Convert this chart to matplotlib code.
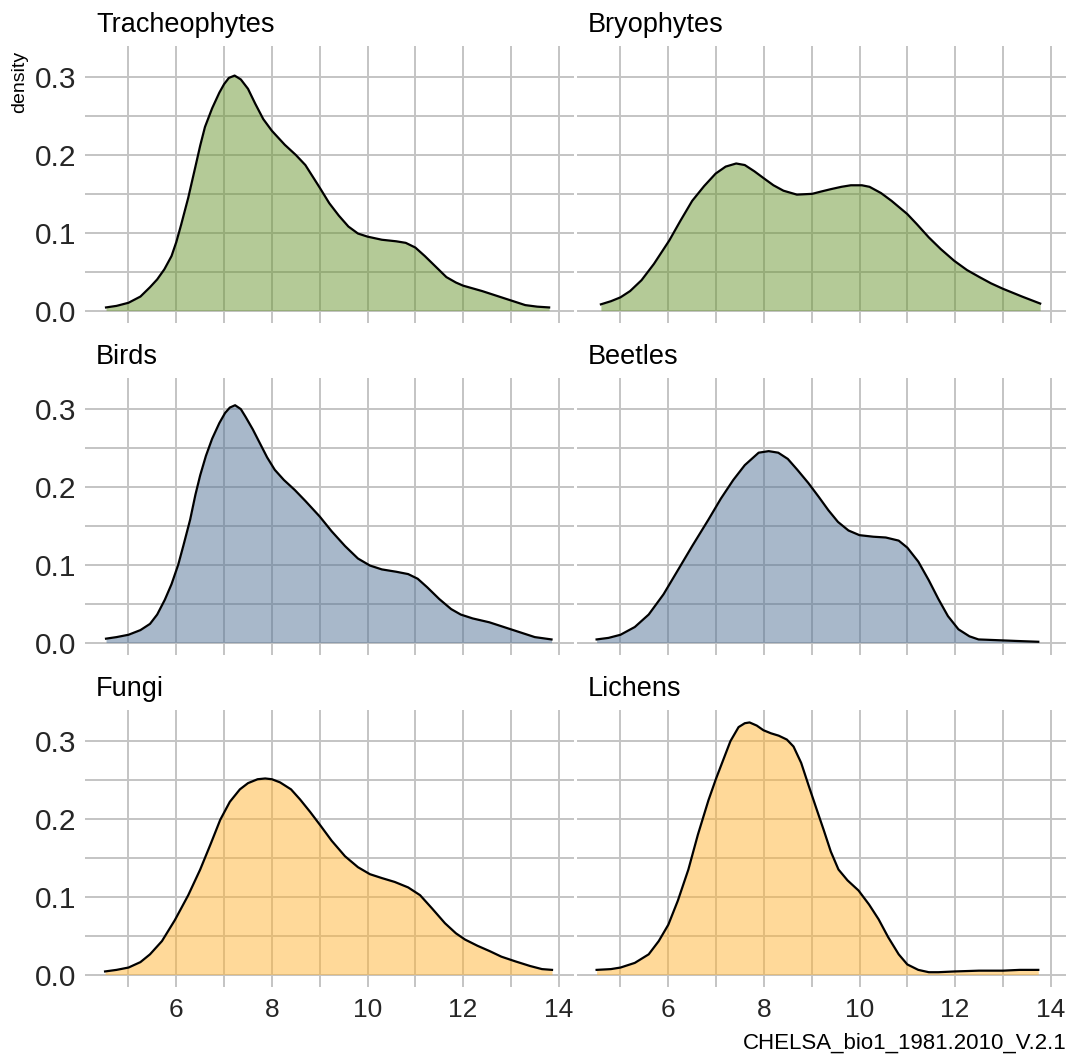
import numpy as np
import matplotlib
matplotlib.use("Agg")
import matplotlib.pyplot as plt
from matplotlib.ticker import MultipleLocator

plt.rcParams['font.family'] = ['Liberation Sans', 'DejaVu Sans']

# density curves (x = annual mean temperature, y = density)
trach_x = [4.53, 4.75, 5.0, 5.25, 5.45, 5.6, 5.75, 5.9, 6.0, 6.1, 6.25, 6.4, 6.5, 6.6, 6.75, 6.9, 7.0,
           7.1, 7.22, 7.35, 7.5, 7.65, 7.82, 8.0, 8.27, 8.5, 8.7, 9.0, 9.2, 9.4, 9.6, 9.8, 10.0, 10.3,
           10.6, 10.8, 11.0, 11.2, 11.45, 11.65, 11.85, 12.0, 12.4, 12.7, 13.0, 13.3, 13.55, 13.8]
trach_y = [.004, .006, .010, .018, .030, .040, .053, .070, .088, .110, .145, .185, .212, .236, .260, .280, .291,
           .299, .302, .297, .285, .266, .246, .231, .213, .200, .187, .158, .138, .122, .108, .099, .095, .091,
           .089, .087, .081, .070, .055, .043, .036, .032, .025, .019, .013, .007, .005, .004]

bryo_x = [4.59, 4.8, 5.0, 5.2, 5.44, 5.7, 6.02, 6.25, 6.5, 6.75, 6.99, 7.2, 7.42, 7.6, 7.8, 8.02, 8.2, 8.41,
          8.69, 9.01, 9.2, 9.4, 9.62, 9.82, 10.05, 10.21, 10.45, 10.67, 11.0, 11.2, 11.45, 11.7, 11.98, 12.25,
          12.51, 12.75, 13.0, 13.4, 13.78]
bryo_y = [.008, .012, .017, .025, .039, .060, .090, .115, .141, .160, .176, .185, .189, .187, .179, .169, .161, .154,
          .149, .150, .153, .156, .159, .161, .161, .159, .151, .141, .124, .111, .094, .079, .064, .052,
          .043, .035, .028, .018, .009]

birds_x = [4.53, 4.75, 5.0, 5.25, 5.45, 5.6, 5.76, 5.9, 6.04, 6.15, 6.29, 6.4, 6.5, 6.62, 6.75, 6.9, 7.02,
           7.12, 7.23, 7.35, 7.45, 7.6, 7.75, 7.9, 8.06, 8.25, 8.48, 8.7, 9.0, 9.25, 9.53, 9.8, 10.05, 10.3,
           10.6, 10.85, 11.05, 11.25, 11.5, 11.75, 11.95, 12.2, 12.55, 12.9, 13.2, 13.5, 13.85]
birds_y = [.005, .007, .010, .016, .024, .036, .055, .075, .100, .125, .158, .190, .215, .240, .262, .282, .295,
           .302, .305, .300, .290, .274, .256, .238, .222, .209, .196, .182, .162, .143, .124, .108, .099, .094,
           .091, .088, .082, .071, .056, .043, .036, .031, .026, .019, .013, .007, .004]

beetles_x = [4.5, 4.75, 5.0, 5.3, 5.59, 5.9, 6.21, 6.5, 6.84, 7.1, 7.36, 7.6, 7.89, 8.1, 8.3, 8.5, 8.7, 8.93,
             9.15, 9.35, 9.55, 9.77, 10.0, 10.29, 10.55, 10.82, 11.0, 11.23, 11.45, 11.65, 11.85, 12.07, 12.3,
             12.49, 12.9, 13.3, 13.74]
beetles_y = [.004, .006, .010, .020, .036, .062, .094, .124, .158, .185, .209, .228, .244, .246, .244, .236, .222, .205,
             .187, .170, .155, .144, .138, .136, .135, .131, .122, .104, .080, .056, .034, .017, .008,
             .004, .003, .002, .001]

fungi_x = [4.51, 4.75, 5.0, 5.25, 5.45, 5.7, 5.97, 6.25, 6.5, 6.72, 6.92, 7.12, 7.33, 7.5, 7.7, 7.86, 8.0,
           8.17, 8.4, 8.59, 8.8, 9.01, 9.25, 9.53, 9.8, 10.05, 10.3, 10.57, 10.85, 11.1, 11.35, 11.62, 11.85,
           12.04, 12.3, 12.56, 12.8, 13.09, 13.4, 13.65, 13.86]
fungi_y = [.004, .006, .009, .016, .026, .043, .070, .102, .135, .168, .199, .222, .238, .246, .251, .252, .251,
           .247, .238, .225, .209, .192, .172, .152, .138, .129, .124, .119, .112, .102, .085, .066, .053,
           .045, .037, .030, .023, .017, .011, .007, .006]

lichens_x = [4.5, 4.8, 5.0, 5.3, 5.59, 5.8, 6.0, 6.2, 6.42, 6.62, 6.84, 7.0, 7.15, 7.3, 7.47, 7.6, 7.7, 7.85,
             7.99, 8.15, 8.31, 8.48, 8.62, 8.78, 8.93, 9.1, 9.25, 9.4, 9.56, 9.75, 9.98, 10.2, 10.4, 10.6,
             10.82, 11.0, 11.23, 11.45, 11.65, 12.0, 12.5, 13.0, 13.35, 13.74]
lichens_y = [.006, .007, .009, .015, .026, .043, .064, .095, .135, .180, .224, .252, .276, .300, .318, .323, .324, .320,
             .314, .310, .307, .302, .293, .272, .244, .213, .186, .158, .135, .121, .108, .090, .071, .048,
             .026, .013, .006, .003, .003, .004, .005, .005, .006, .006]

titles = ["Tracheophytes", "Bryophytes", "Birds", "Beetles", "Fungi", "Lichens"]
xs = [trach_x, bryo_x, birds_x, beetles_x, fungi_x, lichens_x]
ys = [trach_y, bryo_y, birds_y, beetles_y, fungi_y, lichens_y]
fills = ["#6b9731", "#537397", "#ffb535"]

W, H = 1072, 1059
fig = plt.figure(figsize=(W / 100, H / 100), dpi=100)

col_left = [85, 577]
panel_w = 489
row_top = [46, 378, 710]
panel_h = 277

for k in range(6):
    r, c = divmod(k, 2)
    x0 = col_left[c]
    y0 = row_top[r]
    ax = fig.add_axes([x0 / W, 1 - (y0 + panel_h) / H, panel_w / W, panel_h / H])
    ax.set_xlim(4.09, 14.32)
    ax.set_ylim(-0.016, 0.340)
    ax.xaxis.set_major_locator(MultipleLocator(2))
    ax.xaxis.set_minor_locator(MultipleLocator(1))
    ax.yaxis.set_major_locator(MultipleLocator(0.1))
    ax.yaxis.set_minor_locator(MultipleLocator(0.05))
    ax.grid(which="both", color="#c4c4c4", linewidth=1.4)
    ax.set_axisbelow(True)
    for s in ax.spines.values():
        s.set_visible(False)
    ax.tick_params(which="both", length=0, labelcolor="#262626")
    ax.tick_params(axis="y", pad=6, labelsize=21.5)
    ax.tick_params(axis="x", pad=8, labelsize=19)
    ax.yaxis.set_major_formatter(matplotlib.ticker.FormatStrFormatter("%.1f"))
    if c == 1:
        ax.tick_params(axis="y", labelleft=False)
    if r < 2:
        ax.tick_params(axis="x", labelbottom=False)

    ax.fill_between(xs[k], 0, ys[k], color=fills[r], alpha=0.5, linewidth=0, zorder=2)
    ax.plot(xs[k], ys[k], color="black", linewidth=1.6, zorder=3, solid_joinstyle="round")

    fig.text((x0 + 11) / W, 1 - (y0 - 14) / H, titles[k], fontsize=19.5, color="black",
             ha="left", va="baseline")

fig.text(20 / W, 1 - 82 / H, "density", rotation=90, fontsize=14, ha="center", va="center")
fig.text(1067 / W, 1 - 1043 / H, "CHELSA_bio1_1981.2010_V.2.1", fontsize=16,
         ha="right", va="center")

fig.savefig("out.png", dpi=100)
